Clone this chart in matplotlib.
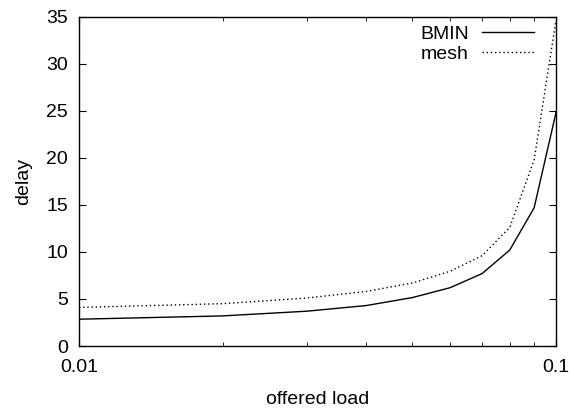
"""
Delay vs offered load, BMIN and mesh.
"""

import matplotlib
matplotlib.use("Agg")
import matplotlib.pyplot as plt
from matplotlib.ticker import FixedLocator, NullFormatter

plt.rcParams["font.family"] = ["Liberation Sans", "DejaVu Sans"]

load = [0.01, 0.02, 0.03, 0.04, 0.05, 0.06, 0.07, 0.08, 0.09, 0.1]
bmin = [2.85, 3.2, 3.7, 4.3, 5.15, 6.2, 7.7, 10.2, 14.7, 24.8]
mesh = [4.1, 4.5, 5.1, 5.8, 6.7, 7.95, 9.6, 12.6, 19.8, 34.6]

fig = plt.figure(figsize=(5.74, 4.09), dpi=100)
ax = fig.add_axes([0.1376, 0.154, 0.831, 0.805])

ax.plot(load, bmin, color="black", lw=1.0, label="BMIN")
ax.plot(load, mesh, color="black", lw=1.0, linestyle=(0, (1, 2)), label="mesh")

ax.set_xscale("log")
ax.set_xlim(0.01, 0.1)
ax.set_ylim(0, 35)
ax.set_yticks(range(0, 36, 5))
ax.xaxis.set_major_locator(FixedLocator([0.01, 0.1]))
ax.set_xticklabels(["0.01", "0.1"])
ax.xaxis.set_minor_locator(FixedLocator([0.02, 0.03, 0.04, 0.05, 0.06, 0.07, 0.08, 0.09]))
ax.xaxis.set_minor_formatter(NullFormatter())

ax.tick_params(which="both", direction="in", top=True, right=True, labelsize=14)
ax.tick_params(axis="y", pad=8)
ax.tick_params(axis="x", pad=9)
ax.tick_params(which="major", length=5)
ax.tick_params(which="minor", length=3)
for s in ax.spines.values():
    s.set_linewidth(1.0)

ax.set_xlabel("offered load", fontsize=14, labelpad=11)
ax.set_ylabel("delay", fontsize=14, labelpad=10)

ax.legend(loc="upper right", frameon=False, markerfirst=False, fontsize=14,
          handlelength=2.7, handletextpad=0.65, labelspacing=0.12,
          borderpad=0, borderaxespad=0, bbox_to_anchor=(0.954, 0.973))

fig.savefig("out.png", dpi=100)
